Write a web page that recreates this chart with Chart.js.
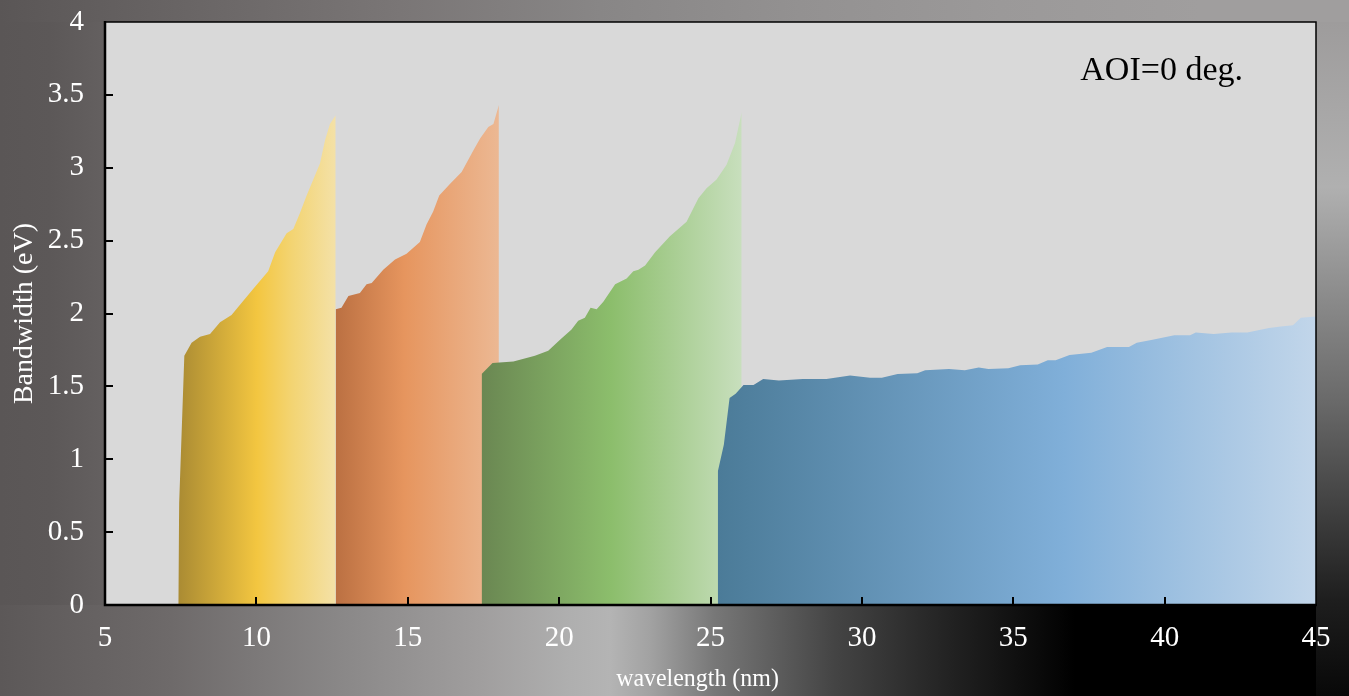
<!DOCTYPE html>
<html>
<head>
<meta charset="utf-8">
<script src="https://cdn.jsdelivr.net/npm/chart.js@4/dist/chart.umd.min.js"></script>
<style>
  html, body { margin: 0; padding: 0; width: 1349px; height: 696px; overflow: hidden; background: #5a5656; }
  .strip { position: absolute; }
  #bgTop {
    left: 0; top: 0; width: 1349px; height: 22px;
    background: linear-gradient(to right, #5a5656 0px, #6a6666 200px, #7a7676 400px, #888686 600px,
      #939191 800px, #9b9999 1000px, #a09e9e 1200px, #a09e9e 1349px);
  }
  #bgLeft {
    left: 0; top: 22px; width: 105px; height: 583px;
    background: linear-gradient(to right, #5a5656 0px, #5c5858 50px, #646060 105px);
  }
  #bgRight {
    left: 1316px; top: 22px; width: 33px; height: 674px;
    background: linear-gradient(to bottom, #9e9c9c 0px, #b0b0b0 165px, #8a8a8a 278px, #6a6a6a 378px,
      #444444 478px, #1e1e1e 578px, #080808 674px);
  }
  #bgBottom {
    left: 0; top: 605px; width: 1316px; height: 91px;
    background: linear-gradient(to right, #5c5858 0px, #6e6a6a 172px, #8a8888 344px, #a09e9e 480px,
      #afafaf 570px, #b4b4b4 610px, #a2a2a2 650px, #777777 715px, #444444 835px, #222222 950px,
      #000000 1075px, #000000 1316px);
  }
  #wrap { position: absolute; left: 0; top: 0; width: 1349px; height: 696px; }
</style>
</head>
<body>
<div class="strip" id="bgTop"></div>
<div class="strip" id="bgLeft"></div>
<div class="strip" id="bgRight"></div>
<div class="strip" id="bgBottom"></div>
<div id="wrap"><canvas id="c" width="1349" height="696"></canvas></div>
<script>
// Bandwidth (eV) versus wavelength (nm) for four mirror coatings
const yellowWl = [7.42, 7.45, 7.62, 7.86, 8.14, 8.47, 8.80, 9.18, 9.46, 9.90, 10.39, 10.62, 11.00, 11.22, 11.44, 11.66, 11.88, 12.10, 12.27, 12.43, 12.62];
const yellowBw = [0.00, 0.70, 1.71, 1.80, 1.84, 1.86, 1.94, 1.99, 2.06, 2.17, 2.29, 2.42, 2.55, 2.58, 2.69, 2.81, 2.92, 3.03, 3.19, 3.30, 3.36];

const orangeWl = [12.62, 12.81, 13.04, 13.42, 13.64, 13.81, 14.19, 14.58, 14.96, 15.40, 15.62, 15.84, 16.04, 16.40, 16.78, 17.17, 17.39, 17.66, 17.83, 18.01];
const orangeBw = [2.03, 2.04, 2.12, 2.14, 2.20, 2.21, 2.30, 2.37, 2.41, 2.49, 2.61, 2.70, 2.81, 2.89, 2.97, 3.12, 3.20, 3.28, 3.30, 3.43];

const greenWl = [17.44, 17.80, 18.49, 19.20, 19.64, 20.03, 20.41, 20.63, 20.85, 21.04, 21.24, 21.46, 21.85, 22.23, 22.45, 22.62, 22.84, 23.17, 23.66, 24.21, 24.60, 24.87, 25.20, 25.53, 25.81, 26.03];
const greenBw = [1.585, 1.66, 1.67, 1.71, 1.745, 1.82, 1.89, 1.95, 1.97, 2.04, 2.03, 2.08, 2.20, 2.24, 2.29, 2.30, 2.33, 2.42, 2.53, 2.63, 2.79, 2.86, 2.92, 3.02, 3.17, 3.38];

const blueWl = [25.24, 25.44, 25.63, 25.83, 26.09, 26.42, 26.74, 27.26, 28.05, 28.83, 29.61, 30.27, 30.66, 31.18, 31.83, 32.09, 32.88, 33.40, 33.86, 34.18, 34.84, 35.23, 35.81, 36.14, 36.40, 36.86, 37.58, 38.10, 38.82, 39.08, 39.60, 40.32, 40.84, 41.03, 41.62, 42.21, 42.73, 43.45, 43.84, 44.24, 44.50, 45.00];
const blueBw = [0.915, 1.10, 1.42, 1.45, 1.51, 1.51, 1.55, 1.54, 1.55, 1.55, 1.575, 1.56, 1.56, 1.585, 1.59, 1.61, 1.62, 1.61, 1.63, 1.62, 1.625, 1.645, 1.65, 1.68, 1.68, 1.715, 1.73, 1.77, 1.77, 1.80, 1.82, 1.85, 1.85, 1.87, 1.86, 1.87, 1.87, 1.90, 1.91, 1.92, 1.97, 1.98];

const xTickValues = [5, 10, 15, 20, 25, 30, 35, 40, 45];
const yTickLabels = ['0', '0.5', '1', '1.5', '2', '2.5', '3', '3.5', '4'];

const annotationText = 'AOI=0 deg.';
const xTitle = 'wavelength (nm)';
const yTitle = 'Bandwidth (eV)';

const SERIF = '"Liberation Serif", "Times New Roman", serif';

// horizontal colour ramps for each filled band
const ramps = {
  yellow: [[0, '#aa8b33'], [0.5, '#f3c640'], [0.72, '#f3d472'], [1, '#f4e1a7']],
  orange: [[0, '#bb7042'], [0.42, '#e6955e'], [1, '#ecb893']],
  green:  [[0, '#6a8752'], [0.5, '#8cbe6c'], [1, '#c8dfbd']],
  blue:   [[0, '#4b7b98'], [0.58, '#80afd9'], [1, '#c2d6ea']]
};

function toPoints(xs, ys) {
  return xs.map((x, i) => ({ x: x, y: ys[i] }));
}

function rampFill(stops, xs) {
  return function (context) {
    const chart = context.chart;
    if (!chart.chartArea) return stops[0][1];
    const sx = chart.scales.x;
    const x0 = sx.getPixelForValue(Math.min.apply(null, xs));
    const x1 = sx.getPixelForValue(Math.max.apply(null, xs));
    const g = chart.ctx.createLinearGradient(x0, 0, x1, 0);
    stops.forEach(s => g.addColorStop(s[0], s[1]));
    return g;
  };
}

function band(xs, ys, stops, order) {
  return {
    data: toPoints(xs, ys),
    backgroundColor: rampFill(stops, xs),
    borderWidth: 0,
    pointRadius: 0,
    fill: 'origin',
    tension: 0,
    order: order
  };
}

const PLOT_LEFT = 105, PLOT_TOP = 22, PLOT_RIGHT = 1316, PLOT_BOTTOM = 605;

const frame = {
  id: 'frame',
  beforeDatasetsDraw(chart) {
    const a = chart.chartArea, ctx = chart.ctx;
    ctx.save();
    ctx.fillStyle = '#d9d9d9';
    ctx.fillRect(a.left, a.top, a.right - a.left, a.bottom - a.top);
    ctx.restore();
  },
  afterDatasetsDraw(chart) {
    const a = chart.chartArea, ctx = chart.ctx;
    const sx = chart.scales.x, sy = chart.scales.y;
    ctx.save();
    ctx.strokeStyle = '#000';
    // inward tick marks
    ctx.lineWidth = 2;
    ctx.beginPath();
    sx.ticks.forEach(t => {
      if (t.value <= sx.min || t.value >= sx.max) return;
      const px = Math.round(sx.getPixelForValue(t.value));
      ctx.moveTo(px, a.bottom);
      ctx.lineTo(px, a.bottom - 8);
    });
    sy.ticks.forEach(t => {
      if (t.value <= sy.min || t.value >= sy.max) return;
      const py = Math.round(sy.getPixelForValue(t.value));
      ctx.moveTo(a.left, py);
      ctx.lineTo(a.left + 8, py);
    });
    ctx.stroke();
    // top and right border
    ctx.lineWidth = 1.5;
    ctx.beginPath();
    ctx.moveTo(a.left, a.top);
    ctx.lineTo(a.right, a.top);
    ctx.lineTo(a.right, a.bottom);
    ctx.stroke();
    // axis lines
    ctx.lineWidth = 2.5;
    ctx.beginPath();
    ctx.moveTo(a.left, a.top - 1);
    ctx.lineTo(a.left, a.bottom);
    ctx.lineTo(a.right + 1, a.bottom);
    ctx.stroke();
    // annotation
    ctx.fillStyle = '#000';
    ctx.font = '34px ' + SERIF;
    ctx.textAlign = 'right';
    ctx.textBaseline = 'alphabetic';
    ctx.fillText(annotationText, a.right - 73, a.top + 58);
    // x-axis title, set slightly narrow
    const cx = (a.left + a.right) / 2 - 13;
    ctx.translate(cx, a.bottom + 74);
    ctx.scale(0.92, 1);
    ctx.fillStyle = '#ffffff';
    ctx.font = '26px ' + SERIF;
    ctx.textAlign = 'center';
    ctx.textBaseline = 'middle';
    ctx.fillText(xTitle, 0, 0);
    ctx.restore();
  }
};

new Chart(document.getElementById('c'), {
  type: 'line',
  data: {
    datasets: [
      band(blueWl, blueBw, ramps.blue, 1),
      band(greenWl, greenBw, ramps.green, 2),
      band(orangeWl, orangeBw, ramps.orange, 3),
      band(yellowWl, yellowBw, ramps.yellow, 4)
    ]
  },
  options: {
    responsive: false,
    animation: false,
    layout: { padding: { left: 0, top: PLOT_TOP, right: 1349 - PLOT_RIGHT, bottom: 0 } },
    plugins: { legend: { display: false }, tooltip: { enabled: false } },
    scales: {
      x: {
        type: 'linear',
        min: xTickValues[0],
        max: xTickValues[xTickValues.length - 1],
        afterBuildTicks(scale) { scale.ticks = xTickValues.map(v => ({ value: v })); },
        afterFit(scale) {
          scale.height = 696 - PLOT_BOTTOM;
          scale.paddingLeft = 0;
          scale.paddingRight = 0;
        },
        grid: { display: false, drawTicks: false },
        border: { display: false },
        ticks: {
          color: '#ffffff',
          font: { family: SERIF, size: 29 },
          padding: 16,
          maxRotation: 0,
          autoSkip: false
        }
      },
      y: {
        type: 'linear',
        min: 0,
        max: 4,
        afterBuildTicks(scale) { scale.ticks = yTickLabels.map(l => ({ value: parseFloat(l) })); },
        afterFit(scale) {
          scale.width = PLOT_LEFT;
          scale.paddingTop = 0;
          scale.paddingBottom = 0;
        },
        grid: { display: false, drawTicks: false },
        border: { display: false },
        ticks: {
          color: '#ffffff',
          font: { family: SERIF, size: 29 },
          padding: 21,
          autoSkip: false,
          callback: function (value) {
            const i = yTickLabels.findIndex(l => parseFloat(l) === value);
            return i >= 0 ? yTickLabels[i] : '';
          }
        },
        title: {
          display: true,
          text: yTitle,
          color: '#ffffff',
          font: { family: SERIF, size: 28 },
          padding: { top: 8, bottom: 0 }
        }
      }
    }
  },
  plugins: [frame]
});
</script>
</body>
</html>
